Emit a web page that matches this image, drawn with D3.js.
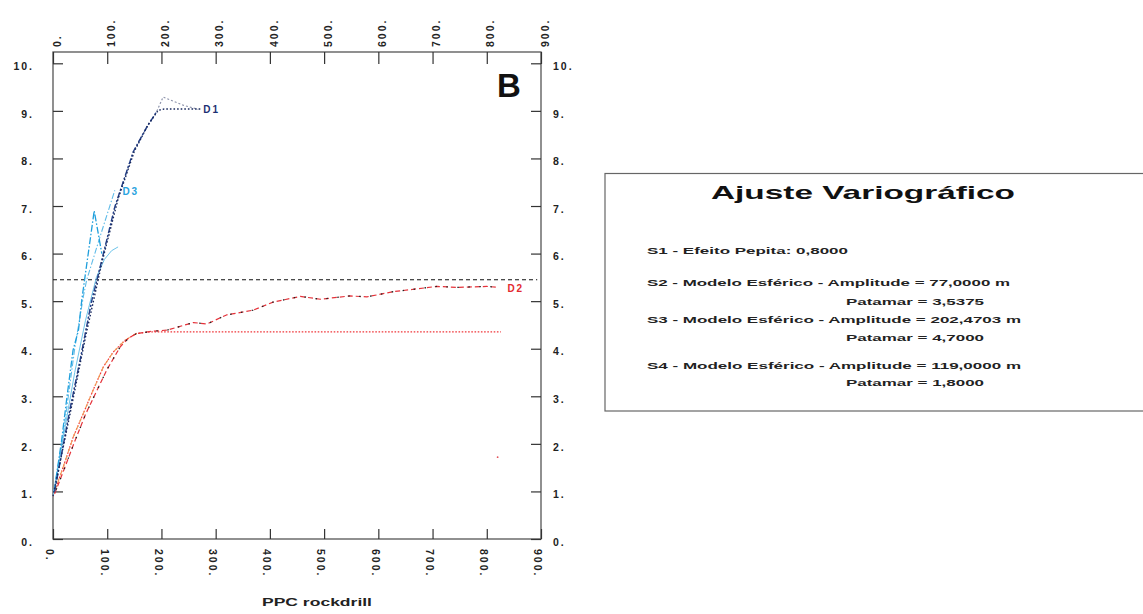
<!DOCTYPE html>
<html>
<head>
<meta charset="utf-8">
<script src="https://cdn.jsdelivr.net/npm/d3@7"></script>
<style>
  html, body { margin: 0; padding: 0; background: #fff; }
  svg { display: block; }
  text { font-family: "Liberation Sans", Arial, sans-serif; font-weight: bold; fill: #222; }
</style>
</head>
<body>
<svg id="chart" width="1143" height="614"></svg>
<script>
// Distance (m) axis ticks and variogram axis ticks
const xTicks = [0, 100, 200, 300, 400, 500, 600, 700, 800, 900];
const yTicks = [0, 1, 2, 3, 4, 5, 6, 7, 8, 9, 10];

// Direction D1: experimental points and fitted model
const d1Exp = [[3, 1.0], [31, 2.71], [50, 3.76], [71, 4.99], [81, 5.44], [114, 6.98], [148, 8.14], [173, 8.66], [191, 8.98], [203, 9.29], [240, 9.12], [268, 9.03]];
const d1Model = [[0, 0.9], [30, 2.55], [60, 4.25], [90, 5.8], [120, 7.15], [150, 8.15], [175, 8.7], [194, 9.01], [205, 9.04], [275, 9.04]];

// Direction D3: experimental points and fitted model
const d3Exp = [[2, 1.0], [16, 2.08], [25, 2.92], [37, 3.97], [47, 4.39], [53, 5.02], [76, 6.9], [90, 6.0]];
const d3Exp2 = [[2, 1.0], [20, 2.3], [40, 4.0], [56, 5.1], [62, 5.44], [88, 6.4], [114, 7.33]];
const d3Model = [[0, 0.9], [20, 2.2], [40, 3.5], [60, 4.6], [80, 5.5], [95, 5.88], [108, 6.06], [120, 6.14]];

// Direction D2: experimental points and fitted model
const d2Exp = [[3, 0.95], [20, 1.45], [40, 2.05], [60, 2.62], [80, 3.1], [100, 3.57], [124, 4.04], [139, 4.22], [154, 4.32], [185, 4.37], [210, 4.39], [259, 4.55], [284, 4.52], [320, 4.71], [369, 4.81], [406, 4.98], [456, 5.10], [493, 5.04], [548, 5.11], [579, 5.09], [628, 5.20], [665, 5.25], [708, 5.31], [745, 5.29], [800, 5.31], [821, 5.29]];
const d2Model = [[0, 0.9], [19, 1.52], [37.5, 2.15], [56, 2.64], [74, 3.13], [93, 3.62], [111, 3.93], [133, 4.18], [154, 4.32], [179, 4.355], [826, 4.355]];
const strayPoint = [[820, 1.72]];

// Overall variance reference line
const variance = 5.45;
const varianceSpan = [0, 893];

// Series labels
const seriesLabels = [
  { text: "D1", d: 277, v: 9.02, color: "#1c2f72" },
  { text: "D3", d: 128, v: 7.3, color: "#2aa3de" },
  { text: "D2", d: 838, v: 5.27, color: "#e32a2f" }
];

// Model summary panel
const panelTitle = "Ajuste Variográfico";
const panelLines = [
  "S1  - Efeito Pepita: 0,8000",
  "S2  - Modelo Esférico - Amplitude = 77,0000 m",
  "Patamar = 3,5375",
  "S3  - Modelo Esférico - Amplitude = 202,4703 m",
  "Patamar = 4,7000",
  "S4  - Modelo Esférico - Amplitude = 119,0000 m",
  "Patamar = 1,8000"
];

const svg = d3.select("#chart");

const frame = { left: 53, right: 541, top: 52, bottom: 539 };
const x = d3.scaleLinear().domain([0, 900]).range([frame.left, frame.right]);
const y = d3.scaleLinear().domain([0, 10]).range([frame.bottom, 63.3]);

// Plot frame
svg.append("rect")
  .attr("x", frame.left).attr("y", frame.top)
  .attr("width", frame.right - frame.left).attr("height", frame.bottom - frame.top)
  .attr("fill", "none").attr("stroke", "#555").attr("stroke-width", 1.3);

// Axes: ticks point into the plot, labels are drawn separately
const axisStyle = g => {
  g.select(".domain").remove();
  g.selectAll(".tick line").attr("stroke", "#333").attr("stroke-width", 1.2);
  g.selectAll(".tick text").remove();
};
svg.append("g").attr("transform", `translate(${frame.left},0)`)
  .call(d3.axisRight(y).tickValues(yTicks).tickSize(10)).call(axisStyle);
svg.append("g").attr("transform", `translate(${frame.right},0)`)
  .call(d3.axisLeft(y).tickValues(yTicks).tickSize(10)).call(axisStyle);
svg.append("g").attr("transform", `translate(0,${frame.top})`)
  .call(d3.axisBottom(x).tickValues(xTicks).tickSize(12)).call(axisStyle);
svg.append("g").attr("transform", `translate(0,${frame.bottom})`)
  .call(d3.axisTop(x).tickValues(xTicks).tickSize(10)).call(axisStyle);

const fmt = v => v + ".";
const labelFont = "10.5px";

// Left and right value labels
svg.append("g").selectAll("text").data(yTicks).join("text")
  .attr("x", 34).attr("y", d => y(d) + 3)
  .attr("text-anchor", "end").attr("dy", "0.35em")
  .style("font-size", labelFont).style("letter-spacing", "2px")
  .text(fmt);
svg.append("g").selectAll("text").data(yTicks).join("text")
  .attr("x", 553).attr("y", d => y(d) + 3)
  .attr("text-anchor", "start").attr("dy", "0.35em")
  .style("font-size", labelFont).style("letter-spacing", "2px")
  .text(fmt);

// Top distance labels, reading upward
svg.append("g").selectAll("text").data(xTicks).join("text")
  .attr("transform", d => `translate(${x(d) + 4},47) rotate(-90)`)
  .attr("text-anchor", "start").attr("dy", "0.35em")
  .style("font-size", labelFont).style("letter-spacing", "2px")
  .text(fmt);
// Bottom distance labels, reading downward
svg.append("g").selectAll("text").data(xTicks).join("text")
  .attr("transform", d => `translate(${x(d) - 3},549) rotate(90)`)
  .attr("text-anchor", "start").attr("dy", "0.35em")
  .style("font-size", labelFont).style("letter-spacing", "2px")
  .text(fmt);

// Axis title
svg.append("text")
  .attr("x", 317).attr("y", 606).attr("text-anchor", "middle")
  .attr("textLength", 110).attr("lengthAdjust", "spacingAndGlyphs")
  .style("font-size", "10.5px")
  .text("PPC rockdrill");

// Panel letter
svg.append("text")
  .attr("x", 509).attr("y", 97).attr("text-anchor", "middle")
  .style("font-size", "33px").style("fill", "#111")
  .text("B");

const line = d3.line().x(d => x(d[0])).y(d => y(d[1]));

// Variance reference
svg.append("line")
  .attr("x1", x(varianceSpan[0])).attr("x2", x(varianceSpan[1]))
  .attr("y1", y(variance)).attr("y2", y(variance))
  .attr("stroke", "#111").attr("stroke-width", 1.1).attr("stroke-dasharray", "4,3");

function drawPath(data, color, dash, width, offset) {
  svg.append("path").datum(data)
    .attr("d", line).attr("fill", "none")
    .attr("stroke", color).attr("stroke-width", width || 1.2)
    .attr("stroke-dasharray", dash || null)
    .attr("stroke-dashoffset", offset || 0)
    .attr("stroke-linejoin", "round");
}

// D2 model and experimental curve
drawPath(d2Model, "#f0363a", "1.6,1.6", 1.2);
drawPath(d2Model.slice(0, 9), "#f39a55", "5,3", 1.1, 2);
drawPath(d2Exp, "#e5323a", "5,3", 1.2);
drawPath(d2Exp, "#222", "1.5,9.5", 1.3, 6.5);

// D3 model and experimental curves
drawPath(d3Model, "#6ec4ea", null, 1.0);
drawPath(d3Exp2, "#5fbbe8", "6,2,1.5,2", 1.1);
drawPath(d3Exp, "#1f9fdc", "7,2,1.5,2", 1.3);

// D1 model and experimental curves
drawPath(d1Exp, "#8d93ab", "2,2", 1.2);
drawPath(d1Exp.slice(0, 9), "#23408c", "6,2,2,2", 1.4);
drawPath(d1Model, "#1a2a5e", "1.6,2", 1.4);

// Isolated pair marker
svg.append("g").selectAll("circle").data(strayPoint).join("circle")
  .attr("cx", d => x(d[0])).attr("cy", d => y(d[1])).attr("r", 0.9)
  .attr("fill", "#e3525a");

// Series labels
svg.append("g").selectAll("text").data(seriesLabels).join("text")
  .attr("x", d => x(d.d)).attr("y", d => y(d.v)).attr("dy", "0.35em")
  .style("font-size", "10px").style("letter-spacing", "2px")
  .style("fill", d => d.color)
  .text(d => d.text);

// Model summary panel
const panel = svg.append("g");
panel.append("rect")
  .attr("x", 605).attr("y", 173.5).attr("width", 560).attr("height", 237.5)
  .attr("fill", "#fff").attr("stroke", "#666").attr("stroke-width", 1.2);
panel.append("text")
  .attr("x", 711).attr("y", 199)
  .attr("textLength", 304).attr("lengthAdjust", "spacingAndGlyphs")
  .style("font-size", "19px").style("fill", "#111")
  .text(panelTitle);

const lineLayout = [
  { x: 647, y: 254, w: 201 },
  { x: 647, y: 286, w: 363 },
  { x: 846, y: 305, w: 138 },
  { x: 647, y: 323, w: 374 },
  { x: 846, y: 341, w: 138 },
  { x: 647, y: 369, w: 374 },
  { x: 846, y: 386, w: 138 }
];
panel.selectAll("text.row").data(panelLines).join("text")
  .attr("class", "row")
  .attr("x", (d, i) => lineLayout[i].x).attr("y", (d, i) => lineLayout[i].y)
  .attr("textLength", (d, i) => lineLayout[i].w).attr("lengthAdjust", "spacingAndGlyphs")
  .style("font-size", "9.5px")
  .text(d => d);
</script>
</body>
</html>
